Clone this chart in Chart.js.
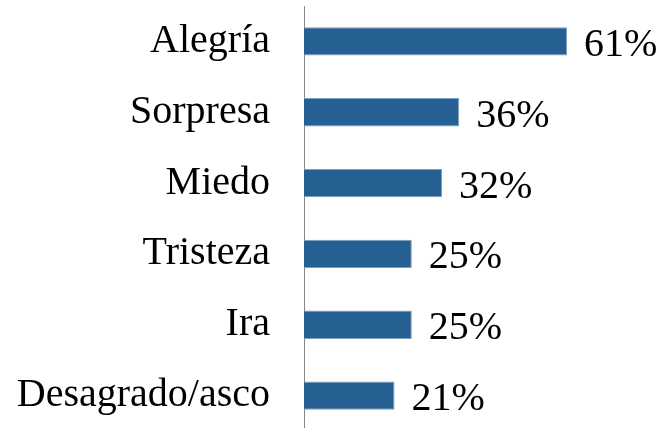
<!DOCTYPE html>
<html>
<head>
<meta charset="utf-8">
<script src="https://cdn.jsdelivr.net/npm/chart.js@4"></script>
<style>
  html, body { margin: 0; padding: 0; background: #fff; overflow: hidden; }
  #wrap { width: 664px; height: 431px; position: relative; }
</style>
</head>
<body>
<div id="wrap"><canvas id="myChart"></canvas></div>
<script>
// Emociones y porcentajes
const emociones = ['Alegría', 'Sorpresa', 'Miedo', 'Tristeza', 'Ira', 'Desagrado/asco'];
const porcentajes = [61, 36, 32, 25, 25, 21];

const FONT = '"Liberation Serif", "Times New Roman", serif';

// draws the "61%" style labels after each bar
const valueLabels = {
    id: 'valueLabels',
    afterDatasetsDraw(chart) {
        const ctx = chart.ctx;
        const meta = chart.getDatasetMeta(0);
        ctx.save();
        ctx.font = '40px ' + FONT;
        ctx.fillStyle = '#000';
        ctx.textAlign = 'left';
        ctx.textBaseline = 'middle';
        meta.data.forEach((bar, i) => {
            ctx.fillText(porcentajes[i] + '%', bar.x + 17, bar.y + 4);
        });
        ctx.restore();
    }
};

const ctx = document.getElementById('myChart').getContext('2d');
new Chart(ctx, {
    type: 'bar',
    data: {
        labels: emociones,
        datasets: [{
            data: porcentajes,
            backgroundColor: '#265f91',
            borderColor: '#7f9fc0',
            borderWidth: 1,
            barPercentage: 0.4,
            categoryPercentage: 1
        }]
    },
    options: {
        indexAxis: 'y',
        responsive: true,
        maintainAspectRatio: false,
        animation: false,
        layout: { padding: { top: 6, right: 15, bottom: 0, left: 0 } },
        plugins: {
            legend: { display: false },
            tooltip: { enabled: false }
        },
        scales: {
            x: {
                display: false,
                min: 0,
                max: 80
            },
            y: {
                afterFit: (scale) => {
                    scale.width = 304;
                    // no extra room for half labels at the ends
                    scale.paddingTop = 0;
                    scale.paddingBottom = 0;
                },
                grid: { display: false, drawTicks: false },
                border: { display: true, color: '#868686', width: 1 },
                ticks: {
                    padding: 34,
                    color: '#000',
                    font: { family: FONT, size: 40 }
                }
            }
        }
    },
    plugins: [valueLabels]
});
</script>
</body>
</html>
